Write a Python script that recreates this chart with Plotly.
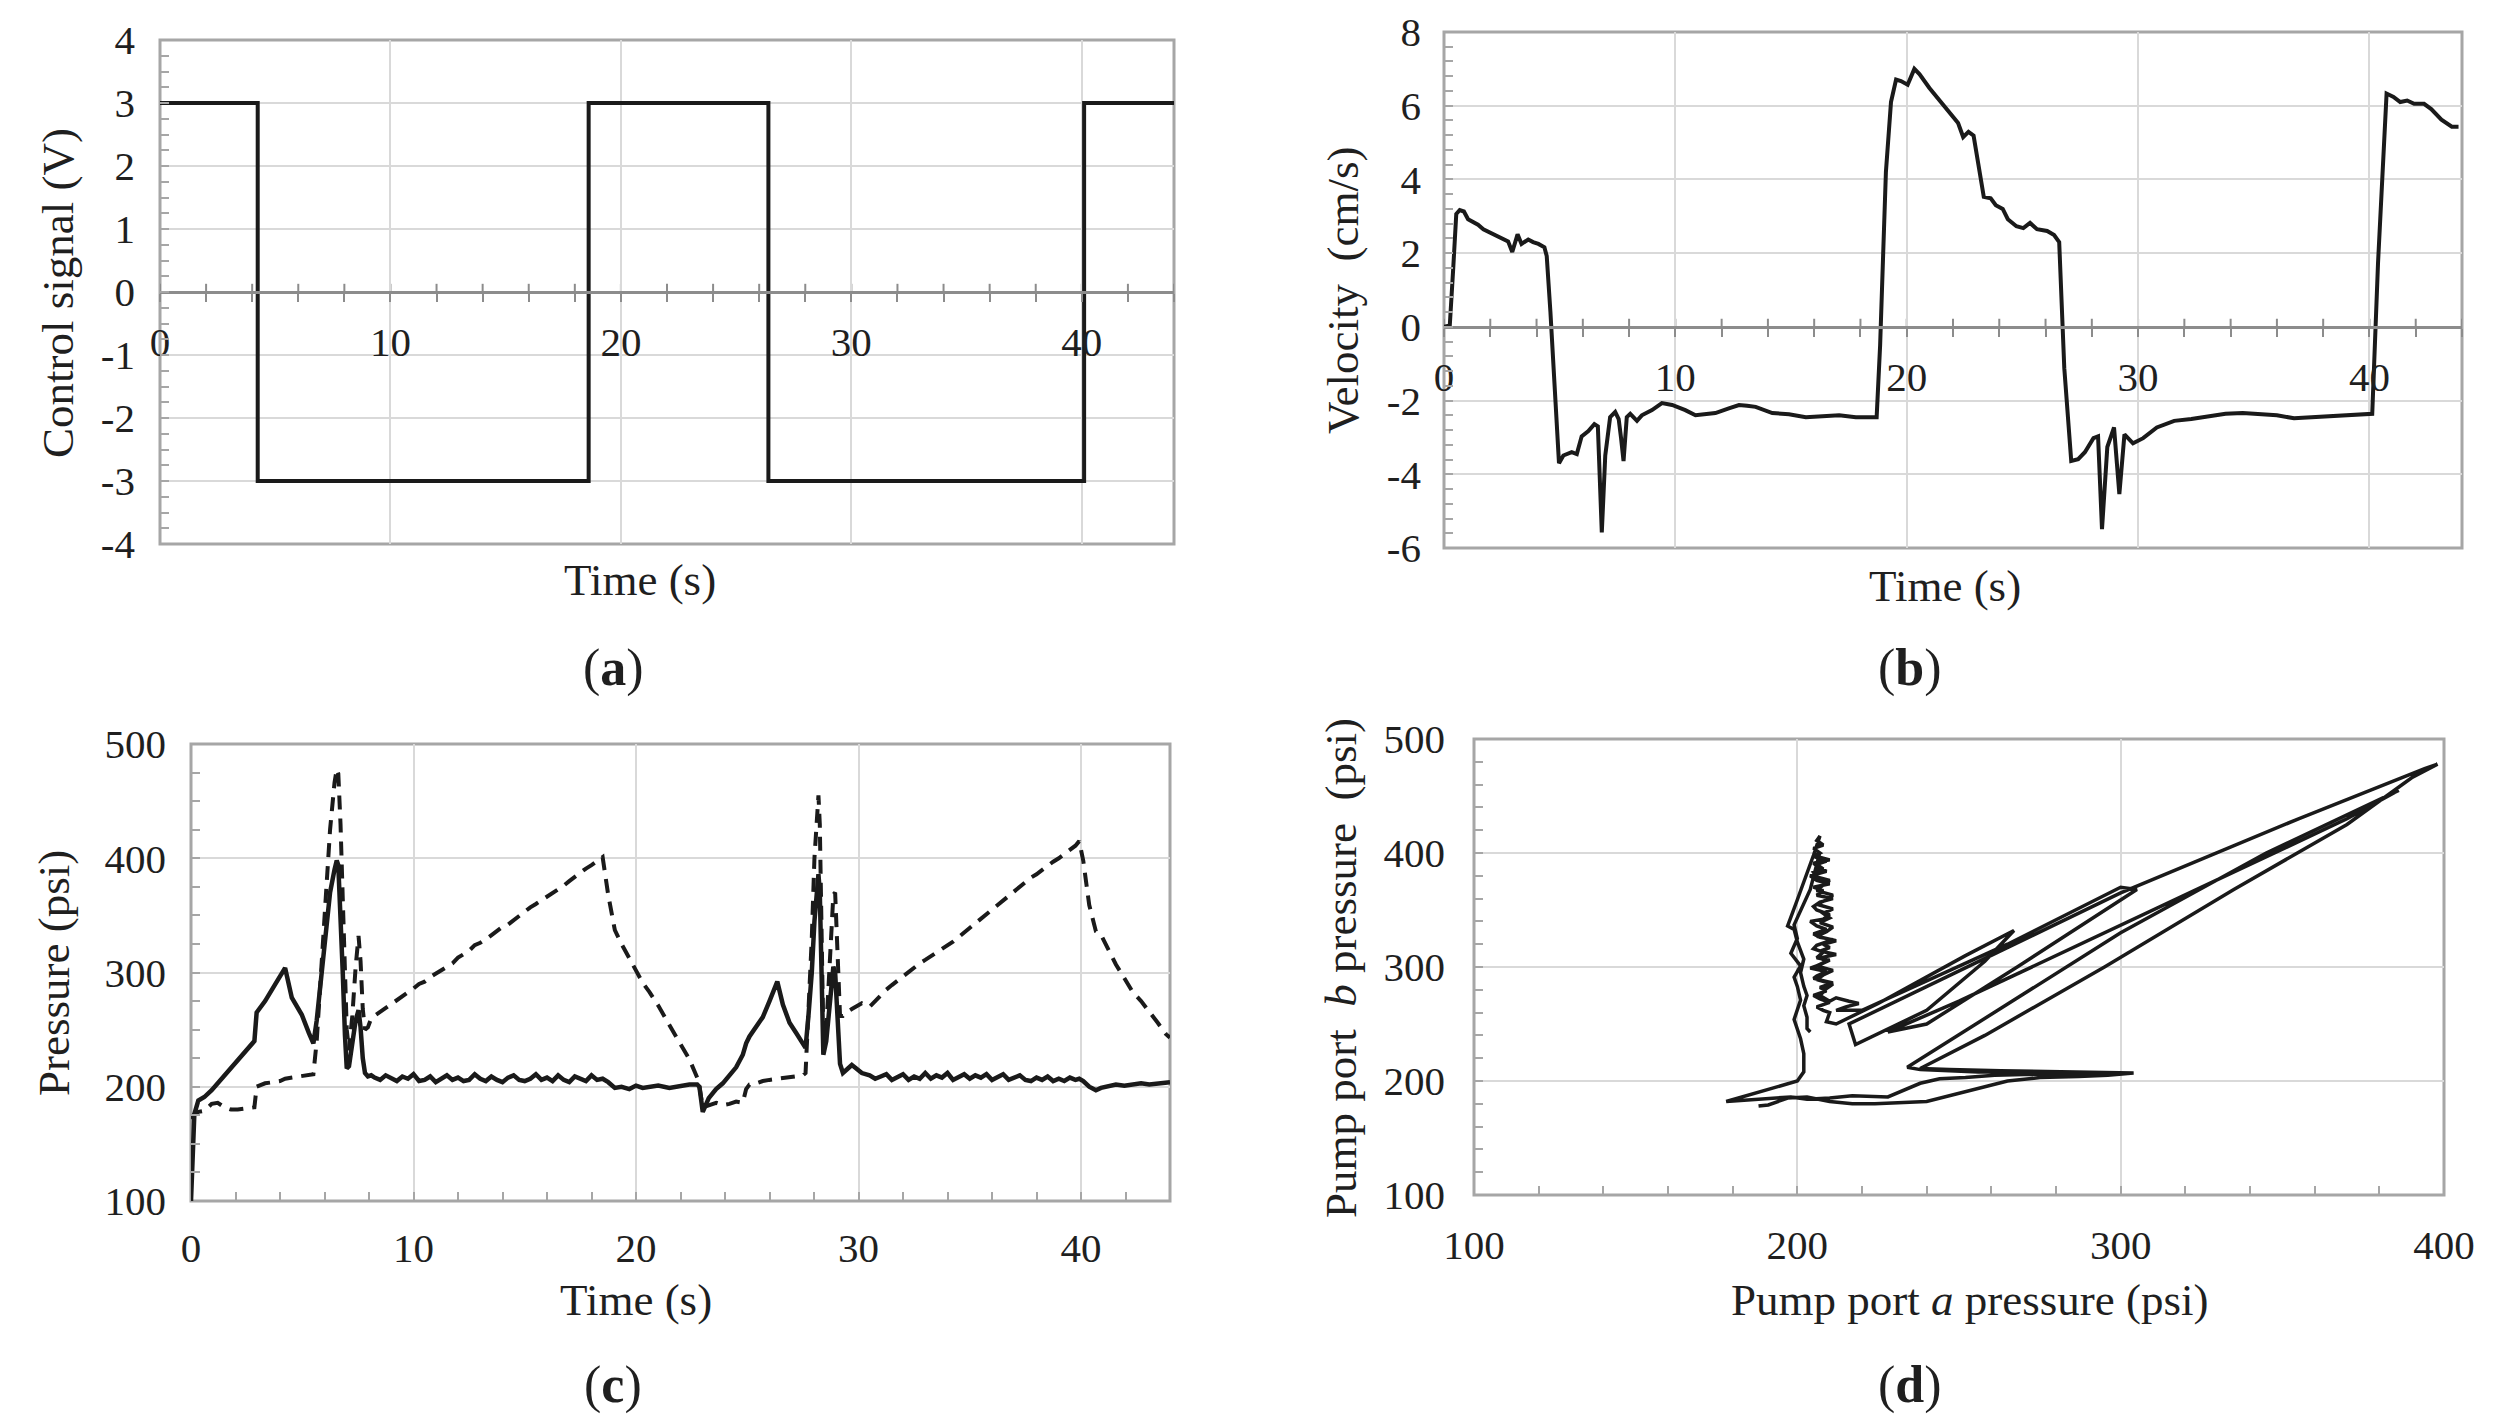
import plotly.graph_objects as go

W, H = 2498, 1425

# (a) control signal: value holds until the next switching time
ctrl_time = [0, 4.24, 18.6, 26.4, 40.1, 44]
ctrl_volt = [3, -3, 3, -3, 3, 3]
ctrl_yticks = [-4, -3, -2, -1, 0, 1, 2, 3, 4]

# (b) piston velocity (cm/s)
vel_time = [0, 0.25, 0.40, 0.53, 0.68, 0.86, 1.04, 1.25, 1.47, 1.70,
            1.91, 2.15, 2.34, 2.55, 2.77, 2.95, 3.05, 3.18, 3.35, 3.50,
            3.64, 3.85, 4.08, 4.34, 4.44, 4.60, 4.73, 4.85, 4.97, 5.16,
            5.35, 5.52, 5.74, 5.95, 6.24, 6.50, 6.65, 6.82, 6.97, 7.18,
            7.40, 7.55, 7.65, 7.76, 7.90, 8.05, 8.34, 8.55, 8.99, 9.42,
            9.86, 10.43, 10.87, 11.30, 11.73, 12.31, 12.75, 13.10, 13.47, 14.19,
            14.91, 15.64, 16.40, 17.08, 17.80, 18.53, 18.70, 18.85, 18.96, 19.10,
            19.32, 19.54, 19.75, 20.04, 20.33, 20.55, 20.98, 21.42, 21.78, 22.00,
            22.22, 22.44, 22.67, 22.89, 23.11, 23.33, 23.63, 23.85, 24.15, 24.37,
            24.74, 25.04, 25.33, 25.63, 26.07, 26.37, 26.59, 26.81, 27.11, 27.41,
            27.70, 28.07, 28.27, 28.44, 28.67, 28.96, 29.19, 29.41, 29.78, 30.22,
            30.81, 31.56, 32.30, 33.05, 33.78, 34.52, 35.25, 36.00, 36.74, 37.50,
            38.22, 39.00, 39.70, 40.12, 40.37, 40.74, 41.04, 41.33, 41.63, 41.93,
            42.36, 42.67, 43.11, 43.56, 43.85]
vel_value = [0, 0.04, 1.6, 3.06, 3.17, 3.13, 2.92, 2.85, 2.77, 2.65,
             2.58, 2.50, 2.44, 2.38, 2.32, 2.03, 2.25, 2.51, 2.25, 2.33,
             2.37, 2.30, 2.25, 2.16, 1.92, 0.4, -1.12, -2.6, -3.70, -3.49,
             -3.45, -3.40, -3.45, -2.97, -2.83, -2.64, -2.70, -5.58, -3.49, -2.45,
             -2.31, -2.50, -3.00, -3.64, -2.45, -2.36, -2.55, -2.40, -2.26, -2.07,
             -2.12, -2.26, -2.40, -2.37, -2.34, -2.21, -2.12, -2.14, -2.17, -2.34,
             -2.37, -2.45, -2.43, -2.40, -2.45, -2.47, -2.45, -0.5, 1.73, 4.2,
             6.10, 6.71, 6.67, 6.57, 7.00, 6.86, 6.48, 6.14, 5.86, 5.70,
             5.53, 5.15, 5.29, 5.19, 4.39, 3.53, 3.49, 3.30, 3.20, 2.92,
             2.73, 2.68, 2.82, 2.65, 2.60, 2.49, 2.30, -1.12, -3.64, -3.59,
             -3.40, -3.02, -2.97, -5.49, -3.26, -2.73, -4.54, -2.92, -3.16, -3.02,
             -2.73, -2.55, -2.50, -2.42, -2.36, -2.34, -2.36, -2.40, -2.48, -2.45,
             -2.43, -2.40, -2.38, -2.36, 1.73, 6.33, 6.24, 6.10, 6.14, 6.05,
             6.05, 5.91, 5.62, 5.43, 5.43]
vel_yticks = [-6, -4, -2, 0, 2, 4, 6, 8]

# (c) pump port pressures (psi) on a shared time base, (d) is a against b
p_time = [0.00, 0.15, 0.33, 0.60, 0.93, 1.20, 1.50, 1.80, 2.10, 2.40,
          2.70, 2.85, 2.95, 3.33, 3.70, 4.00, 4.23, 4.53, 4.98, 5.30,
          5.50, 5.65, 5.85, 6.05, 6.25, 6.45, 6.55, 6.62, 6.72, 6.82,
          6.92, 7.00, 7.10, 7.25, 7.40, 7.53, 7.62, 7.72, 7.82, 7.95, 8.10,
          8.25, 8.50, 8.75, 9.00, 9.25, 9.50, 9.75, 10.00, 10.25, 10.50,
          10.75, 11.00, 11.25, 11.50, 11.75, 12.00, 12.25, 12.50, 12.75, 13.00,
          13.25, 13.50, 13.75, 14.00, 14.25, 14.50, 14.75, 15.00, 15.25, 15.50,
          15.75, 16.00, 16.25, 16.50, 16.75, 17.00, 17.25, 17.50, 17.75, 18.00, 18.25,
          18.50, 18.75, 19.05, 19.35, 19.70, 20.00, 20.30, 20.60, 21.00, 21.50,
          22.00, 22.40, 22.75, 22.85, 23.00,
          23.27, 23.60, 23.90, 24.20, 24.50, 24.80, 24.95, 25.10, 25.40, 25.70,
          26.00, 26.35, 26.60, 26.90, 27.20, 27.50, 27.62,
          27.75, 27.90, 28.02, 28.12, 28.20, 28.26, 28.32, 28.38, 28.42, 28.55,
          28.70, 28.87, 28.95, 29.05, 29.17, 29.30, 29.45, 29.70, 29.90, 30.15,
          30.50, 30.75, 31.00, 31.25, 31.50, 31.75, 32.00, 32.25, 32.50, 32.75,
          33.00, 33.25, 33.50, 33.75, 34.00, 34.25, 34.50, 34.75, 35.00, 35.25,
          35.50, 35.75, 36.00, 36.25, 36.50, 36.75, 37.00, 37.25, 37.50, 37.75,
          38.00, 38.25, 38.50, 38.75, 39.00, 39.25, 39.50, 39.75, 39.92,
          40.10, 40.37, 40.67, 40.90, 41.20, 41.57, 41.95, 42.32, 42.70, 43.07,
          43.45, 43.82, 44.00]
port_a = [100, 176, 188, 191, 197, 203, 210, 217, 224, 230,
          236, 240, 265, 275, 287, 296, 304, 278, 263, 247,
          238, 258, 295, 335, 370, 390, 398, 394, 355, 300,
          245, 216, 218, 240, 258, 267, 252, 225, 212, 209, 210,
          208, 206, 210, 207, 205, 209, 207, 211, 205, 206,
          209, 204, 207, 210, 206, 208, 205, 206, 211, 207,
          205, 209, 206, 204, 208, 210, 206, 205, 207, 211,
          206, 208, 205, 210, 206, 204, 209, 207, 205, 210, 206,
          207, 204, 199, 200, 198, 201, 199, 200, 201, 199,
          201, 202, 202, 200, 178,
          190, 198, 203, 210, 217, 228, 238, 244, 252, 261,
          275, 292, 272, 256, 247, 238, 234,
          262, 300, 345, 375, 386, 370, 310, 250, 228, 240,
          268, 305, 300, 265, 220, 212, 215, 219, 216, 212,
          210, 207, 209, 211, 206, 208, 211, 206, 209, 207,
          212, 207, 210, 208, 212, 206, 209, 211, 207, 210,
          208, 211, 206, 209, 211, 206, 208, 210, 206, 205,
          208, 206, 209, 205, 207, 205, 208, 206, 207,
          205, 200, 197, 199, 200, 202, 201, 202, 203, 202,
          203, 203, 204]
port_b = [172, 176, 178, 179, 185, 186, 182, 180, 180, 181,
          182, 182, 200, 203, 204, 205, 207, 208, 209, 210,
          211, 240, 300, 368, 425, 466, 478, 474, 430, 365,
          290, 250, 232, 262, 305, 332, 310, 268, 250, 252, 260,
          262, 265, 269, 272, 275, 279, 282, 286, 290, 292,
          296, 299, 302, 306, 308, 313, 316, 319, 324, 326,
          329, 333, 336, 340, 342, 346, 350, 353, 357, 360,
          363, 367, 370, 373, 376, 380, 384, 387, 391, 394, 397,
          401, 368, 337, 325, 312, 301, 291, 283, 271, 254,
          237, 224, 208, 200, 182,
          184, 186, 184, 185, 187, 186, 198, 202, 203, 205,
          206, 207, 208, 208, 209, 210, 212,
          262, 330, 400, 440, 455, 430, 350, 270, 243, 250,
          300, 368, 370, 320, 262, 262, 265, 268, 270, 273,
          270, 275, 281, 285, 289, 293, 297, 301, 305, 308,
          311, 314, 317, 320, 323, 327, 331, 335, 339, 343,
          347, 351, 355, 359, 363, 367, 372, 376, 379, 383,
          386, 390, 393, 397, 400, 404, 407, 411, 415,
          398, 359, 336, 333, 322, 307, 295, 283, 275, 266,
          256, 246, 243]
D_START = 2  # panel (d) leaves out the first fill-up samples

assert len(vel_time) == len(vel_value)
assert len(p_time) == len(port_a) == len(port_b)

FONT = "Liberation Serif"
INK = "#1a1a1a"
TXT = "#1f1f1f"
GRID = "#d9d9d9"
FRAME = "#a6a6a6"
AXIS = "#8c8c8c"
TICK_SIZE = 41
TITLE_SIZE = 45


def px_x(p):
    return p / W


def px_y(p):
    return 1 - p / H


fig = go.Figure()

fig.add_trace(go.Scatter(x=ctrl_time, y=ctrl_volt, mode="lines", line=dict(color=INK, width=4, shape="hv"),
                         xaxis="x", yaxis="y"))
fig.add_trace(go.Scatter(x=vel_time, y=vel_value, mode="lines", line=dict(color=INK, width=4),
                         xaxis="x2", yaxis="y2"))
fig.add_trace(go.Scatter(x=p_time, y=port_b, mode="lines", line=dict(color=INK, width=4, dash="14px,9px"),
                         xaxis="x3", yaxis="y3"))
fig.add_trace(go.Scatter(x=p_time, y=port_a, mode="lines", line=dict(color=INK, width=4.5),
                         xaxis="x3", yaxis="y3"))
fig.add_trace(go.Scatter(x=port_a[D_START:], y=port_b[D_START:], mode="lines", line=dict(color=INK, width=3.5),
                         xaxis="x4", yaxis="y4"))

tickfont = dict(family=FONT, size=TICK_SIZE, color=TXT)


def y_axis(domain, anchor, rng, dtick, minor, standoff, vals=None):
    d = dict(domain=domain, anchor=anchor, range=rng, tick0=rng[0], dtick=dtick, showgrid=True,
             gridcolor=GRID, gridwidth=2, zeroline=False, showline=False, ticks="inside", ticklen=9,
             tickwidth=2, tickcolor=FRAME,
             minor=dict(tickmode="linear", tick0=rng[0], dtick=minor, ticks="inside", ticklen=9,
                        tickwidth=2, tickcolor=FRAME, showgrid=False),
             tickfont=tickfont, ticklabelstandoff=standoff, fixedrange=True, automargin=False)
    if vals is not None:
        # plain hyphen for negative labels, as in the original
        d.update(tickmode="array", tickvals=vals, ticktext=[str(v) for v in vals])
    return d


def zero_x_axis(domain, pos):
    # time axis drawn through y = 0
    return dict(domain=domain, range=[0, 44], tick0=0, dtick=10, anchor="free", position=pos,
                zeroline=False, ticks="outside", ticklen=8, tickwidth=2, tickcolor=AXIS,
                showgrid=True, gridcolor=GRID, gridwidth=2, showline=True, linecolor=AXIS, linewidth=3,
                tickfont=tickfont, ticklabelstandoff=5, fixedrange=True, automargin=False,
                minor=dict(dtick=2, ticks="outside", ticklen=8, tickwidth=2, tickcolor=AXIS, showgrid=False))


def bottom_x_axis(domain, anchor, rng, dtick, minor, standoff):
    return dict(domain=domain, anchor=anchor, range=rng, tick0=rng[0], dtick=dtick, showgrid=True,
                gridcolor=GRID, gridwidth=2, zeroline=False, showline=False, ticks="inside", ticklen=9,
                tickwidth=2, tickcolor=FRAME,
                minor=dict(dtick=minor, ticks="inside", ticklen=9, tickwidth=2, tickcolor=FRAME,
                           showgrid=False),
                tickfont=tickfont, ticklabelstandoff=standoff, fixedrange=True, automargin=False)


dom_a = ([px_x(152), px_x(1166)], [px_y(536), px_y(32)])
dom_b = ([px_x(1436), px_x(2454)], [px_y(540), px_y(24)])
dom_c = ([px_x(183), px_x(1162)], [px_y(1193), px_y(736)])
dom_d = ([px_x(1466), px_x(2436)], [px_y(1187), px_y(731)])

fig.update_layout(
    width=W, height=H, margin=dict(l=0, r=0, t=0, b=0, autoexpand=False),
    paper_bgcolor="white", plot_bgcolor="white", showlegend=False,
    xaxis=zero_x_axis(dom_a[0], px_y(284)),
    yaxis=y_axis(dom_a[1], "x", [-4, 4], 1, 0.25, 24, ctrl_yticks),
    xaxis2=zero_x_axis(dom_b[0], px_y(319)),
    yaxis2=y_axis(dom_b[1], "x2", [-6, 8], 2, 0.4, 22, vel_yticks),
    xaxis3=bottom_x_axis(dom_c[0], "y3", [0, 44], 10, 2, 19),
    yaxis3=y_axis(dom_c[1], "x3", [100, 500], 100, 25, 24),
    xaxis4=bottom_x_axis(dom_d[0], "y4", [100, 400], 100, 20, 22),
    yaxis4=y_axis(dom_d[1], "x4", [100, 500], 100, 20, 28),
)

# upper half of the crossing ticks on the zero lines of (a) and (b)
for xr, yr, half in [("x", "y", 0.13), ("x2", "y2", 0.22)]:
    for t in range(0, 45, 2):
        fig.add_shape(type="line", xref=xr, yref=yr, x0=t, x1=t, y0=0, y1=half,
                      line=dict(color=AXIS, width=2), layer="below")

# plot frames
for xr, yr in [("x", "y"), ("x2", "y2"), ("x3", "y3"), ("x4", "y4")]:
    fig.add_shape(type="rect", xref=xr + " domain", yref=yr + " domain", x0=0, x1=1, y0=0, y1=1,
                  line=dict(color=FRAME, width=3), layer="below")

# axis titles and panel letters
titles = [
    ("Time (s)", 632, 572, 0), ("Control signal (V)", 50, 285, -90),
    ("Time (s)", 1937, 578, 0), ("Velocity  (cm/s)", 1335, 283, -90),
    ("Time (s)", 628, 1292, 0), ("Pressure (psi)", 46, 965, -90),
    ("Pump port <i>a</i> pressure (psi)", 1961, 1292, 0),
    ("Pump port  <i>b</i> pressure  (psi)", 1333, 960, -90),
]
for text, x, y, angle in titles:
    fig.add_annotation(text=text, x=px_x(x), y=px_y(y), xref="paper", yref="paper", showarrow=False,
                       textangle=angle, xanchor="center", yanchor="middle",
                       font=dict(family=FONT, size=TITLE_SIZE, color=TXT))

for letter, x, y in [("a", 605, 660), ("b", 1902, 660), ("c", 605, 1377), ("d", 1902, 1377)]:
    fig.add_annotation(text="(<b>" + letter + "</b>)", x=px_x(x), y=px_y(y), xref="paper", yref="paper",
                       showarrow=False, xanchor="center", yanchor="middle",
                       font=dict(family=FONT, size=52, color=TXT))

fig.write_html("out.html")
